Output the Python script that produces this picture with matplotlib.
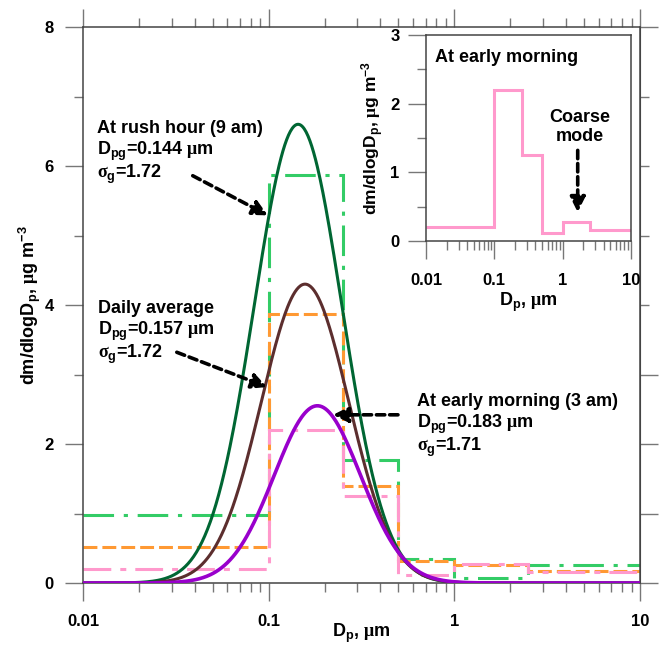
import numpy as np
import matplotlib
matplotlib.use("Agg")
import matplotlib.pyplot as plt
from matplotlib.ticker import FixedLocator, NullFormatter

# === 1. fonts ===
plt.rcParams["font.family"] = "Liberation Sans"
plt.rcParams["font.weight"] = "bold"
plt.rcParams["axes.labelweight"] = "bold"
plt.rcParams["mathtext.fontset"] = "custom"
plt.rcParams["mathtext.rm"] = "Liberation Serif"
plt.rcParams["mathtext.bf"] = "Liberation Sans:bold"
plt.rcParams["mathtext.it"] = "Liberation Sans:bold"
plt.rcParams["mathtext.default"] = "bf"
plt.rcParams["lines.scale_dashes"] = False

# === 2. data ===
# impactor stage edges, um
edges = [0.01, 0.1, 0.25, 0.5, 1.0, 2.5, 10.0]
# measured dm/dlogDp per stage, ug m-3
rush_bins = [0.98, 5.87, 1.77, 0.35, 0.07, 0.26]
daily_bins = [0.52, 3.87, 1.40, 0.31, 0.26, 0.17]
morning_bins = [0.20, 2.20, 1.25, 0.12, 0.28, 0.16]

# lognormal fits: rush hour, daily average, early morning
fit_dpg = [0.144, 0.157, 0.183]
fit_sigma = [1.72, 1.72, 1.71]
fit_peak = [6.6, 4.3, 2.55]

xticks = [0.01, 0.1, 1, 10]
xtick_labels = ["0.01", "0.1", "1", "10"]

# === 3. colours ===
c_rush_bin, c_daily_bin, c_morn_bin = "#33cc66", "#ff9933", "#ff99cc"
c_rush_fit, c_daily_fit, c_morn_fit = "#006633", "#5c2e2e", "#9900cc"
spine_c, tick_c = "#444444", "#777777"

fig = plt.figure(figsize=(6.64, 6.55), dpi=100)
ax = fig.add_axes([83 / 664, 1 - 583 / 655, 557 / 664, 556 / 655])

# === 4. measured stages ===
ax.stairs(rush_bins, edges, baseline=None, color=c_rush_bin, lw=2.2,
          linestyle=(0, (22, 7, 3, 7)), zorder=2)
ax.stairs(daily_bins, edges, baseline=None, color=c_daily_bin, lw=2.2,
          linestyle=(0, (10, 3.6)), zorder=2)
ax.stairs(morning_bins, edges, baseline=None, color=c_morn_bin, lw=2.2,
          linestyle=(0, (20, 6.5, 4.3, 6.5)), zorder=2)

# === 5. lognormal fits ===
dp = np.logspace(-2, 1, 600)
for dpg, sg, pk, col, lw in zip(fit_dpg, fit_sigma, fit_peak,
                                [c_rush_fit, c_daily_fit, c_morn_fit],
                                [2.2, 2.2, 2.6]):
    fit = pk * np.exp(-np.log10(dp / dpg) ** 2 / (2 * np.log10(sg) ** 2))
    ax.plot(dp, fit, color=col, lw=lw, zorder=3, solid_capstyle="butt")

# === 6. axes ===
ax.set_xscale("log")
ax.set_xlim(0.01, 10)
ax.set_ylim(0, 8)
ax.xaxis.set_major_locator(FixedLocator(xticks))
ax.set_xticklabels(xtick_labels)
ax.xaxis.set_minor_formatter(NullFormatter())
ax.set_yticks([0, 2, 4, 6, 8])
ax.yaxis.set_minor_locator(FixedLocator([1, 3, 5, 7]))
ax.tick_params(which="both", direction="out", top=True, color=tick_c,
               width=1, labelsize=12)
ax.tick_params(which="major", length=13)
ax.tick_params(which="minor", length=6.5)
ax.tick_params(axis="x", pad=9)
ax.tick_params(axis="y", pad=8)
for s in ax.spines.values():
    s.set_color(spine_c)
    s.set_linewidth(1.1)

rax = ax.secondary_yaxis("right")
rax.set_yticks([0, 1, 2, 3, 8])
rax.yaxis.set_minor_locator(FixedLocator([4, 5, 6, 7]))
rax.tick_params(which="both", direction="out", color=tick_c, width=1,
                labelright=False)
rax.tick_params(which="major", length=13)
rax.tick_params(which="minor", length=6.5)
rax.spines["right"].set_color(spine_c)

ax.set_xlabel(r"D$_{p}$, $\mathrm{\mu}$m", fontsize=13, labelpad=-5)
ax.set_ylabel(r"dm/dlogD$_{p}$, $\mathrm{\mu}$g m$^{-3}$", fontsize=13,
              labelpad=1)

# === 7. annotations ===
def label_block(x, ys, lines):
    for y, t in zip(ys, lines):
        ax.text(x, y, t, fontsize=13, va="baseline", ha="left", zorder=5)

label_block(0.0119, [6.47, 6.16, 5.83],
            ["At rush hour (9 am)", r"D$_{pg}$=0.144 $\mathrm{\mu}$m",
             r"$\mathrm{\sigma}_{g}$=1.72"])
label_block(0.0120, [3.88, 3.57, 3.24],
            ["Daily average", r"D$_{pg}$=0.157 $\mathrm{\mu}$m",
             r"$\mathrm{\sigma}_{g}$=1.72"])
label_block(0.629, [2.55, 2.23, 1.90],
            ["At early morning (3 am)", r"D$_{pg}$=0.183 $\mathrm{\mu}$m",
             r"$\mathrm{\sigma}_{g}$=1.71"])

arrow_kw = dict(arrowstyle="-|>,head_length=0.9,head_width=0.45", color="k",
                lw=2.6, linestyle=(0, (6, 3.5)), shrinkA=0, shrinkB=0)
ax.annotate("", xy=(0.099, 5.29), xytext=(0.039, 5.86), arrowprops=arrow_kw, zorder=6)
ax.annotate("", xy=(0.098, 2.82), xytext=(0.032, 3.32), arrowprops=arrow_kw, zorder=6)
ax.annotate("", xy=(0.222, 2.42), xytext=(0.497, 2.42), arrowprops=arrow_kw, zorder=6)

# === 8. inset: early morning ===
ins = fig.add_axes([426 / 664, 1 - 241 / 655, 205 / 664, 206 / 655])
ins.set_facecolor("white")
ins.stairs(morning_bins, edges, baseline=None, color=c_morn_bin, lw=2.2)
ins.set_xscale("log")
ins.set_xlim(0.01, 10)
ins.set_ylim(0, 3)
ins.xaxis.set_major_locator(FixedLocator(xticks))
ins.set_xticklabels(xtick_labels)
ins.xaxis.set_minor_formatter(NullFormatter())
ins.set_yticks([0, 1, 2, 3])
ins.yaxis.set_minor_locator(FixedLocator([0.5, 1.5, 2.5]))
ins.tick_params(which="both", direction="out", color=tick_c, width=1,
                labelsize=12)
ins.tick_params(which="major", length=13)
ins.tick_params(which="minor", length=6.5)
ins.tick_params(axis="x", pad=10)
ins.tick_params(axis="y", pad=6)
for s in ins.spines.values():
    s.set_color(spine_c)
    s.set_linewidth(1.1)
ins.set_xlabel(r"D$_{p}$, $\mathrm{\mu}$m", fontsize=13, labelpad=2)
ins.set_ylabel(r"dm/dlogD$_{p}$, $\mathrm{\mu}$g m$^{-3}$", fontsize=12.5,
               labelpad=3)
ins.text(0.044, 0.893, "At early morning", transform=ins.transAxes,
         fontsize=13, va="center", ha="left")
ins.text(0.751, 0.553, "Coarse\nmode", transform=ins.transAxes, fontsize=13,
         va="center", ha="center", linespacing=1.1)
ins.annotate("", xy=(1.66, 0.42), xytext=(1.66, 1.32), arrowprops=arrow_kw)

plt.savefig("out.png", dpi=100)
